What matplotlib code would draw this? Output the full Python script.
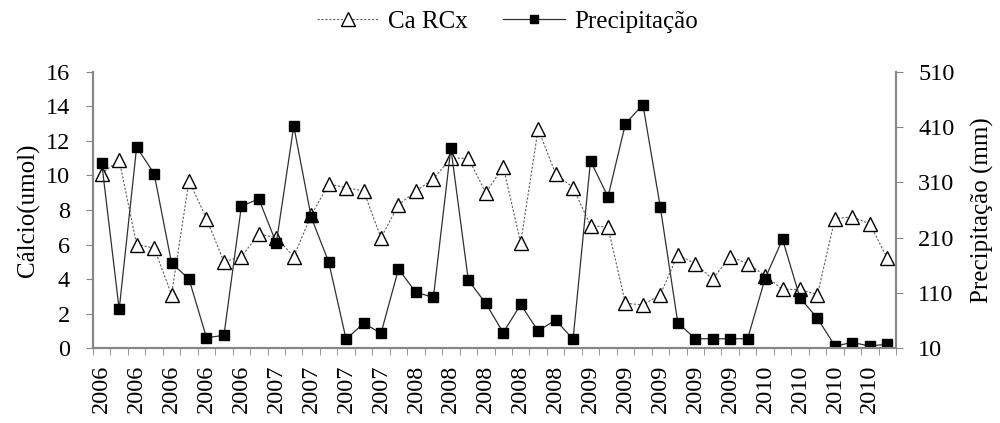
import matplotlib.pyplot as plt
import numpy as np

plt.rcParams['font.family'] = ['Liberation Serif', 'DejaVu Serif']

# one label per sampling date, only every other one is printed on the axis
years = (['2006'] * 10 + ['2007'] * 8 + ['2008'] * 10 +
         ['2009'] * 10 + ['2010'] * 8)

ca_rcx = [10.1, 10.9, 6.0, 5.8, 3.1, 9.7, 7.5, 5.0, 5.3, 6.6,
          6.4, 5.3, 7.7, 9.5, 9.3, 9.1, 6.4, 8.3, 9.1, 9.8,
          11.0, 11.0, 9.0, 10.5, 6.1, 12.7, 10.1, 9.3, 7.1, 7.0,
          2.6, 2.5, 3.1, 5.4, 4.9, 4.0, 5.3, 4.9, 4.2, 3.4,
          3.4, 3.1, 7.5, 7.6, 7.2, 5.2]

precip = [345, 80, 374, 326, 164, 135, 29, 33, 267, 280,
          200, 412, 247, 166, 26, 55, 37, 153, 111, 102,
          372, 133, 91, 38, 89, 41, 61, 26, 349, 284,
          416, 451, 265, 56, 27, 27, 27, 27, 136, 207,
          101, 64, 14, 20, 14, 17]

x = np.arange(len(years))
axis_grey = '#868686'

fig, ax = plt.subplots(figsize=(10, 4.23), dpi=100)
fig.subplots_adjust(left=0.093, right=0.896, bottom=0.177, top=0.830)
ax2 = ax.twinx()

l1, = ax.plot(x, ca_rcx, color='#606060', lw=0.8, ls=(0, (2, 1.5)),
              marker='^', ms=10, mfc='white', mec='black', mew=1.0)
l2, = ax2.plot(x, precip, color='#303030', lw=0.9,
               marker='s', ms=6.5, mfc='black', mec='black')

ax.set_xlim(-0.5, len(years) - 0.5)
ax.set_ylim(0, 16)
ax.set_yticks(np.arange(0, 17, 2))
ax2.set_ylim(10, 510)
ax2.set_yticks(np.arange(10, 511, 100))

ax.set_xticks(x[::2])
ax.set_xticklabels(years[::2], rotation=90)
ax.set_xticks(np.arange(-0.5, len(years)), minor=True)
ax.tick_params(axis='x', which='major', length=0, pad=12, labelsize=17.5)
ax.tick_params(axis='x', which='minor', length=5, color=axis_grey, direction='out')
ax.tick_params(axis='y', length=5, color=axis_grey, pad=11.5, labelsize=17.5)
ax2.tick_params(axis='y', length=5, color=axis_grey, pad=11, labelsize=17.5)

for a in (ax, ax2):
    a.spines['top'].set_visible(False)
    for s in ('left', 'right', 'bottom'):
        a.spines[s].set_color(axis_grey)
        a.spines[s].set_linewidth(1.5)

ax.set_ylabel('Cálcio(umol)', fontsize=18, labelpad=4)
ax2.set_ylabel('Precipitação (mm)', fontsize=18, labelpad=12)

fig.legend([l1, l2], ['Ca RCx', 'Precipitação'], loc='center',
           bbox_to_anchor=(0.507, 0.948), ncol=2, frameon=False, fontsize=18,
           markerscale=0.95, handlelength=2.5, handletextpad=0.35,
           columnspacing=1.4)

fig.savefig('out.png', dpi=100)
